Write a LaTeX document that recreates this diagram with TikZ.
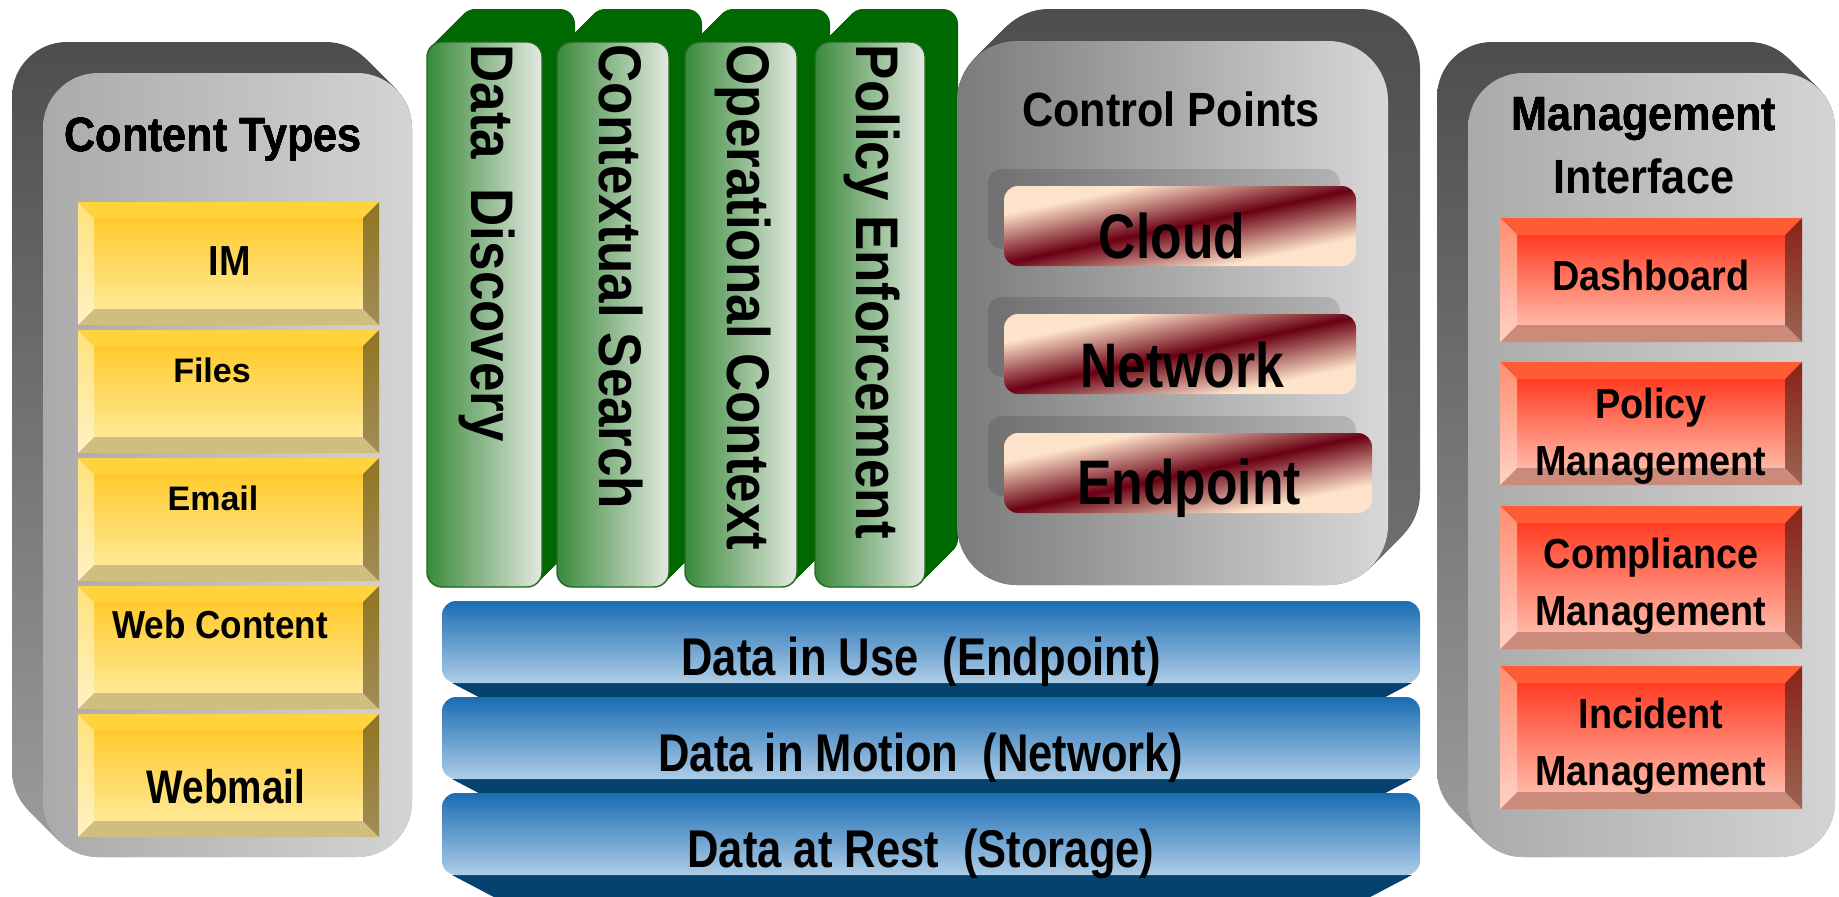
\documentclass[tikz,border=0pt]{standalone}
\usepackage{fontspec}
\setmainfont{Liberation Sans}
\newfontfamily\narrowsans{Liberation Sans}[FakeStretch=0.82]
\newfontfamily\midsans{Liberation Sans}[FakeStretch=0.9]
\newfontfamily\spinesans{Liberation Sans}[FakeStretch=0.88]

\definecolor{backtop}{HTML}{4D4D4D}
\definecolor{backbot}{HTML}{9A9A9A}
\definecolor{sideleft}{HTML}{AAAAAA}
\definecolor{sideright}{HTML}{D4D4D4}
\definecolor{cpleft}{HTML}{7B7B7B}
\definecolor{cpright}{HTML}{D8D8D8}
\definecolor{cpbacktop}{HTML}{4E4E4E}
\definecolor{cpbackbot}{HTML}{6E6E6E}
\definecolor{greenside}{HTML}{006800}
\definecolor{greenleft}{HTML}{3A8A3A}
\definecolor{greenright}{HTML}{E4E9E2}
\definecolor{greenedge}{HTML}{1F6B1F}
\definecolor{bluetop}{HTML}{1A6CB3}
\definecolor{bluebot}{HTML}{AECDE7}
\definecolor{bluedark}{HTML}{05426E}
\definecolor{peach}{HTML}{FDE3C9}
\definecolor{maroon}{HTML}{6A0012}
\definecolor{yface1}{HTML}{FFCA2C}
\definecolor{yface2}{HTML}{FFE996}
\definecolor{ybtop}{HTML}{FFD43A}
\definecolor{ybleft1}{HTML}{FFE27A}
\definecolor{ybleft2}{HTML}{FFF2C4}
\definecolor{ybright1}{HTML}{8F7420}
\definecolor{ybright2}{HTML}{A08E58}
\definecolor{ybbot}{HTML}{CFBE7E}
\definecolor{rface1}{HTML}{FF3C24}
\definecolor{rface2}{HTML}{FFB8A6}
\definecolor{rbtop}{HTML}{FF5C35}
\definecolor{rbleft1}{HTML}{FF8E70}
\definecolor{rbleft2}{HTML}{FFD2C6}
\definecolor{rbright1}{HTML}{8A2216}
\definecolor{rbright2}{HTML}{9A6454}
\definecolor{rbbot}{HTML}{CC8A7A}

% thin dark band across the control point bars
\pgfdeclareverticalshading{ctrlband}{100bp}{color(0bp)=(peach); color(31bp)=(peach);
  color(50bp)=(maroon); color(69bp)=(peach); color(100bp)=(peach)}

% bevelled button: #1 colour set, #2 x1, #3 y1, #4 x2, #5 y2, #6 bevel
\newcommand{\bevelbox}[6]{%
  \path[#1face] ({#2+#6},{#3+#6}) rectangle ({#4-#6},{#5-#6});
  \path[#1top] ({#2},{#3}) -- ({#4},{#3}) -- ({#4-#6},{#3+#6}) -- ({#2+#6},{#3+#6}) -- cycle;
  \path[#1bot] ({#2},{#5}) -- ({#4},{#5}) -- ({#4-#6},{#5-#6}) -- ({#2+#6},{#5-#6}) -- cycle;
  \path[#1left] ({#2},{#3}) -- ({#2+#6},{#3+#6}) -- ({#2+#6},{#5-#6}) -- ({#2},{#5}) -- cycle;
  \path[#1right] ({#4},{#3}) -- ({#4-#6},{#3+#6}) -- ({#4-#6},{#5-#6}) -- ({#4},{#5}) -- cycle;
}

\begin{document}
\begin{tikzpicture}[x=0.01cm,y=-0.01cm,
  every node/.style={inner sep=0pt,anchor=base,font=\bfseries},
  panelback/.style={rounded corners=0.55cm,top color=backtop,bottom color=backbot},
  panelfront/.style={rounded corners=0.55cm,left color=sideleft,right color=sideright},
  cpback/.style={rounded corners=0.6cm,top color=cpbacktop,bottom color=cpbackbot},
  cpfront/.style={rounded corners=0.6cm,left color=cpleft,right color=cpright},
  colside/.style={rounded corners=0.15cm,fill=greenside},
  colfront/.style={rounded corners=0.15cm,left color=greenleft,right color=greenright,draw=greenedge,line width=0.4pt},
  barlight/.style={rounded corners=0.14cm,top color=bluetop,bottom color=bluebot},
  bardark/.style={fill=bluedark},
  ctrlshadow/.style={rounded corners=0.14cm,fill=black,fill opacity=0.13},
  ctrlbar/.style={rounded corners=0.14cm,shading=ctrlband,shading angle=12},
  yellowface/.style={top color=yface1,bottom color=yface2},
  yellowtop/.style={fill=ybtop},
  yellowbot/.style={fill=ybbot},
  yellowleft/.style={top color=ybleft1,bottom color=ybleft2},
  yellowright/.style={top color=ybright1,bottom color=ybright2},
  redface/.style={top color=rface1,bottom color=rface2},
  redtop/.style={fill=rbtop},
  redbot/.style={fill=rbbot},
  redleft/.style={top color=rbleft1,bottom color=rbleft2},
  redright/.style={top color=rbright1,bottom color=rbright2},
  paneltitle/.style={font=\midsans\bfseries\fontsize{13.66}{16}\selectfont},
  redlabel/.style={font=\midsans\bfseries\fontsize{11.95}{14}\selectfont},
  ctrllabel/.style={font=\narrowsans\bfseries\fontsize{17.9}{20}\selectfont},
  layerlabel/.style={font=\narrowsans\bfseries\fontsize{15.1}{18}\selectfont},
  vlabel/.style={font=\spinesans\bfseries\fontsize{17.1}{20}\selectfont,rotate=-90,anchor=base west}]
\useasboundingbox (0,0) rectangle (1839,897);

% content types
\foreach \s in {0,...,31}
  \path[panelback] ({43-\s},{73-\s}) rectangle ({412-\s},{857-\s});
\path[panelfront] (43,73) rectangle (412,857);
\foreach \yt in {202,330,458,586,714}
  \bevelbox{yellow}{78}{\yt}{379}{\yt+123}{16}
\node[paneltitle] (cttitle) at (213,151) {Content Types};
\node[font=\midsans\bfseries\fontsize{11.95}{14}\selectfont] (im) at (230,275) {IM};
\node[font=\bfseries\fontsize{9.67}{12}\selectfont] (files) at (212,382) {Files};
\node[font=\bfseries\fontsize{9.67}{12}\selectfont] (email) at (213,510) {Email};
\node[font=\midsans\bfseries\fontsize{11.1}{13}\selectfont] (webcontent) at (220,638) {Web Content};
\node[font=\narrowsans\bfseries\fontsize{13.4}{16}\selectfont] (webmail) at (226,803) {Webmail};

% functions
\foreach \xa/\xb in {427/542,557/669,685/797,815/925} {
  \foreach \s in {0,...,33}
    \path[colside] ({\xa+\s},{42-\s}) rectangle ({\xb+\s},{587-\s});
  \path[colfront] (\xa,42) rectangle (\xb,587);
}
\node[vlabel] (discovery) at (471,44) {Data\ \ Discovery};
\node[vlabel] (search) at (599,44) {Contextual Search};
\node[vlabel] (context) at (727,44) {Operational Context};
\node[vlabel] (enforce) at (856,44) {Policy Enforcement};

% control points
\foreach \s in {0,...,32}
  \path[cpback] ({957+\s},{41-\s}) rectangle ({1388+\s},{585-\s});
\path[cpfront] (957,41) rectangle (1388,585);
\node[paneltitle] (cptitle) at (1171,126) {Control Points};
\foreach \yt/\xr in {186/1356,314/1356,433/1372} {
  \path[ctrlshadow] (988,{\yt-17}) rectangle ({\xr-16},{\yt+63});
  \path[ctrlbar] (1004,\yt) rectangle (\xr,{\yt+80});
}
\node[ctrllabel] (cloud) at (1172,258) {Cloud};
\node[ctrllabel] (network) at (1182,387) {Network};
\node[ctrllabel] (endpoint) at (1189,504) {Endpoint};

% data states
\foreach \yt/\h in {601/15,697/15,793/22} {
  \path[bardark] (452,{\yt+82}) -- (1412,{\yt+82}) -- ({1412-1.9*\h},{\yt+82+\h}) -- ({452+1.9*\h},{\yt+82+\h}) -- cycle;
  \path[barlight] (442,\yt) rectangle (1420,{\yt+82});
}
\node[layerlabel] (inuse) at (921,675) {Data in Use\ \ (Endpoint)};
\node[layerlabel] (inmotion) at (921,771) {Data in Motion\ \ (Network)};
\node[layerlabel] (atrest) at (921,867) {Data at Rest\ \ (Storage)};

% management interface
\foreach \s in {0,...,31}
  \path[panelback] ({1468-\s},{73-\s}) rectangle ({1835-\s},{857-\s});
\path[panelfront] (1468,73) rectangle (1835,857);
\foreach \yt/\yb in {218/342,362/485,506/649,666/809}
  \bevelbox{red}{1500}{\yt}{1802}{\yb}{17}
\node[paneltitle] (mititle) at (1644,130) {Management};
\node[paneltitle] (mititleb) at (1644,193) {Interface};
\node[redlabel] (dashboard) at (1651,290) {Dashboard};
\node[redlabel] (policy) at (1651,418) {Policy};
\node[redlabel] (policyb) at (1651,475) {Management};
\node[redlabel] (compliance) at (1651,568) {Compliance};
\node[redlabel] (complianceb) at (1651,625) {Management};
\node[redlabel] (incident) at (1651,728) {Incident};
\node[redlabel] (incidentb) at (1651,785) {Management};
\end{tikzpicture}
\end{document}
